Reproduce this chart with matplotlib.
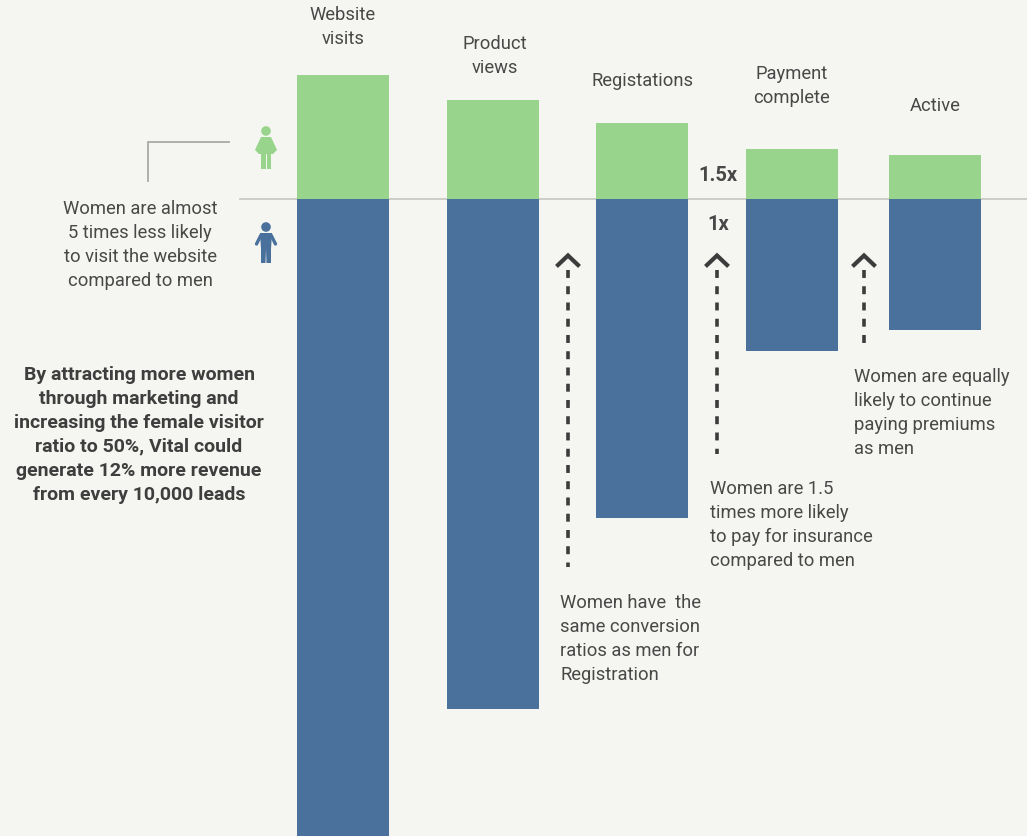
import matplotlib
matplotlib.use('Agg')
import matplotlib.pyplot as plt
from matplotlib.patches import Circle, Polygon

plt.rcParams['font.family'] = ['Roboto', 'DejaVu Sans']

####################################################
# Data
####################################################
stages = ['Website\nvisits', 'Product\nviews', 'Registations', 'Payment\ncomplete', 'Active']
women = [124, 99, 76, 50, 44]
men = [638, 510, 319, 152, 131]

note_visits = 'Women are almost\n5 times less likely\nto visit the website\ncompared to men'
note_revenue = ('By attracting more women\nthrough marketing and\nincreasing the female visitor\n'
                'ratio to 50%, Vital could\ngenerate 12% more revenue\nfrom every 10,000 leads')
note_reg = 'Women have  the\nsame conversion\nratios as men for\nRegistration'
note_pay = 'Women are 1.5\ntimes more likely\nto pay for insurance\ncompared to men'
note_active = 'Women are equally\nlikely to continue\npaying premiums\nas men'

####################################################
# Style
####################################################
bg = '#F5F5F1'
green = '#98D48B'
blue = '#4A709C'
grey = '#A9A9A6'
text_col = '#484848'
dark = '#3C3C3C'

bar_left = [297, 447, 596, 746, 889]
bar_width = 92
base_px = 199.5
line_px = 23.9

fig = plt.figure(figsize=(10.27, 8.37), dpi=100, facecolor=bg)

# bars: values above and below the zero line
ax = fig.add_axes([0, 0, 1, 1], facecolor='none')
ax.set_xlim(0, 1027)
ax.set_ylim(base_px - 837, base_px)
ax.axis('off')
ax.bar(bar_left, women, width=bar_width, align='edge', color=green, zorder=2)
ax.bar(bar_left, [-m for m in men], width=bar_width, align='edge', color=blue, zorder=2)
ax.plot([240, 1027], [0, 0], color='#C9C9C6', lw=1.3, zorder=1)

# annotations use a pixel overlay with y pointing down
ov = fig.add_axes([0, 0, 1, 1], facecolor='none')
ov.set_xlim(0, 1027)
ov.set_ylim(837, 0)
ov.axis('off')


def lines(s, x, y, ha='center', size=13.2, weight='normal', color=text_col):
    for i, t in enumerate(s.split('\n')):
        ov.text(x, y + i * line_px, t, ha=ha, va='center', fontsize=size,
                fontweight=weight, color=color)


def arrow(x, top, bottom):
    ov.plot([x, x], [top + 17, bottom], color=dark, lw=2.6, dashes=(2.2, 2.3), zorder=3)
    ov.plot([x - 10, x, x + 10], [top + 12, top + 2.5, top + 12], color=dark, lw=3.0,
            solid_joinstyle='miter', zorder=3)


def woman(cx, col):
    ov.add_patch(Circle((cx, 132), 4.8, color=col, lw=0))
    ov.add_patch(Polygon([(cx - 5, 138), (cx + 5, 138), (cx + 11, 151), (cx + 8, 154), (cx + 7, 155),
                          (cx - 7, 155), (cx - 8, 154), (cx - 11, 151)], color=col, lw=0))
    ov.add_patch(Polygon([(cx - 5, 154), (cx - 0.5, 154), (cx - 0.5, 170), (cx - 5, 170)], color=col, lw=0))
    ov.add_patch(Polygon([(cx + 0.5, 154), (cx + 5, 154), (cx + 5, 170), (cx + 0.5, 170)], color=col, lw=0))


def man(cx, col):
    ov.add_patch(Circle((cx, 228), 4.8, color=col, lw=0))
    ov.add_patch(Polygon([(cx - 6, 234), (cx + 6, 234), (cx + 5, 250), (cx + 5, 264), (cx + 0.5, 264),
                          (cx, 250), (cx - 0.5, 264), (cx - 5, 264), (cx - 5, 250)], color=col, lw=0))
    ov.plot([cx - 5, cx - 9.5], [236, 245], color=col, lw=2.4, solid_capstyle='round')
    ov.plot([cx + 5, cx + 9.5], [236, 245], color=col, lw=2.4, solid_capstyle='round')


# stage labels
label_x = [343, 495, 642.5, 792, 935]
label_y = [15, 44, 81, 74, 106]
for s, x, y in zip(stages, label_x, label_y):
    lines(s, x, y)

lines(note_visits, 140, 209)
lines(note_revenue, 139, 375, weight='bold', size=14, color='#3E3E3E')
lines(note_reg, 560, 603, ha='left')
lines(note_pay, 710, 489, ha='left')
lines(note_active, 854, 377, ha='left')

ov.text(718, 175, '1.5x', ha='center', va='center', fontsize=14.5, fontweight='bold', color=text_col)
ov.text(718, 224, '1x', ha='center', va='center', fontsize=14.5, fontweight='bold', color=text_col)

# bracket from the women icon to the note
ov.plot([148, 148, 229], [182, 142.5, 142.5], color=grey, lw=1.3, solid_joinstyle='miter')

woman(266, green)
man(266, blue)

arrow(568, 254, 568)
arrow(717, 254, 455)
arrow(864, 254, 352)

fig.savefig('out.png', dpi=100, facecolor=bg)
